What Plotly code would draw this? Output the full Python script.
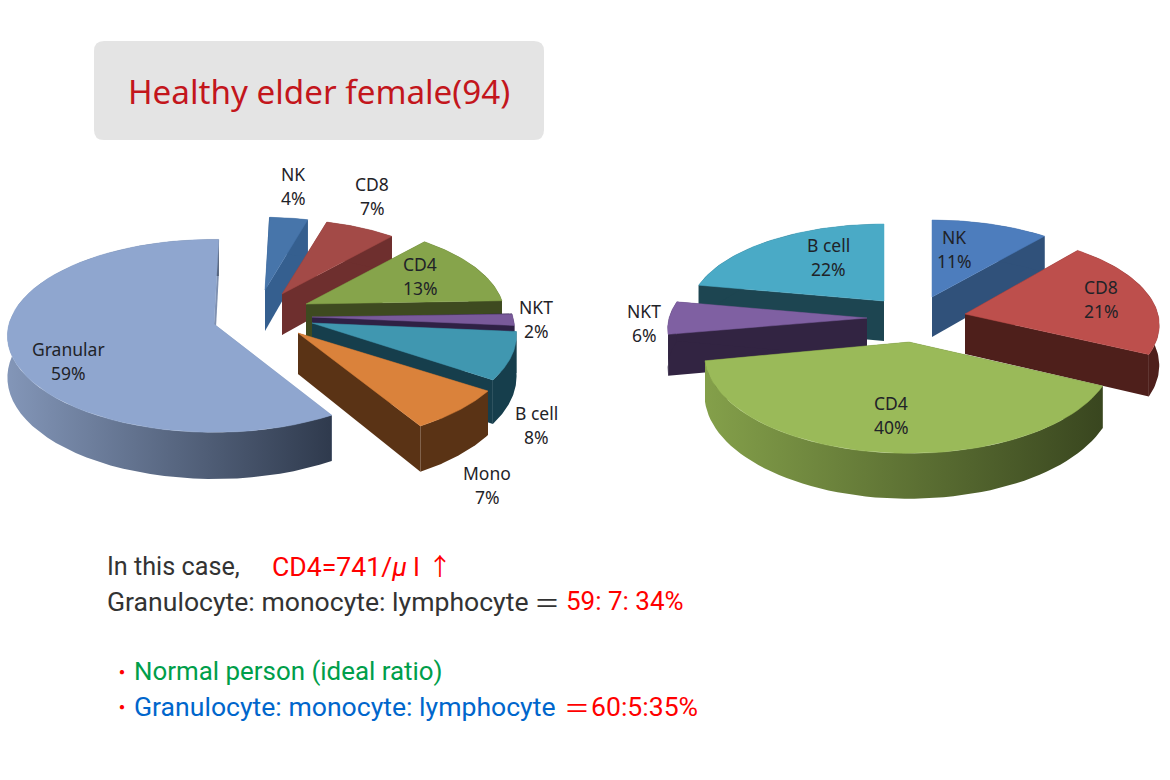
import numpy as np
import plotly.graph_objects as go

# ---- data ----
left_labels = ["NK", "CD8", "CD4", "NKT", "B cell", "Mono", "Granular"]
left_values = [4, 7, 13, 2, 8, 7, 59]
right_labels = ["NK", "CD8", "CD4", "NKT", "B cell"]
right_values = [11, 21, 40, 6, 22]
case_ratio = [59, 7, 34]
ideal_ratio = [60, 5, 35]
cd4_count = 741
title_text = "Healthy elder female(94)"

# ---- style / layout of the two exploded pies ----
left_top = ["#4775aa", "#a34a47", "#86a44b", "#795a9a", "#4097b0", "#da823b", "#8fa6cf"]
left_side = ["#355f8f", "#6e2f2e", "#3e4a20", "#2f2145", "#163e4c", "#5a3315", "#7f90b0"]
right_top = ["#4d7dbd", "#bd4f4c", "#9aba59", "#7f60a2", "#4aaac6"]
right_side = ["#30517a", "#4e1f1b", "#3d4a20", "#322442", "#1d4551"]
left_wall_grad = {"Granular": ["#8396b8", "#2f3a4d"]}
right_wall_grad = {"CD4": ["#84a04a", "#39461f"]}

# slice apex (x, y) and per-slice size factors
left_apex = [(265, 290), (282, 294), (306, 304), (312, 317), (312, 323), (298, 333), (214, 324)]
left_sx = [.86, .90, .97, .99, 1.0, 1.05, 1.01]
left_sy = [.86, .88, .95, .99, 1.0, 1.02, 1.0]
left_order = [0, 1, 2, 3, 6, 4, 5]
right_apex = [(932, 297), (965, 314), (909, 342), (867, 318), (884, 301)]
right_sx = [.95, .95, 1.0, .975, .95]
right_sy = [.88, .92, 1.0, .90, .88]
right_order = [4, 0, 3, 1, 2]

fig = go.Figure()


def add_pie(labels, values, apex, sx, sy, order, top, side, grad, rx, ry, k, depth, rot):
    total = sum(values)
    edges = rot + 360.0 * np.cumsum([0] + list(values)) / total
    for i in order:
        th = np.radians(np.linspace(edges[i], edges[i + 1], 60))
        u, v = np.sin(th), -np.cos(th)
        s = 1 / (1 - k * v)
        ax, ay = apex[i]
        x = ax + sx[i] * rx * u * s
        y = ay + sy[i] * ry * v * s
        d = depth * s
        # radial faces
        for j in (0, -1):
            fig.add_trace(go.Scatter(
                x=[ax, x[j], x[j], ax, ax],
                y=[ay, y[j], y[j] + d[j], ay + depth, ay],
                mode="lines", line=dict(width=0), fill="toself",
                fillcolor=side[i], hoverinfo="skip", showlegend=False))
        # outer wall
        wall = dict(x=np.r_[x, x[::-1]], y=np.r_[y, (y + d)[::-1]],
                    mode="lines", line=dict(width=0), fill="toself",
                    hoverinfo="skip", showlegend=False)
        if labels[i] in grad:
            c0, c1 = grad[labels[i]]
            wall["fillgradient"] = dict(type="horizontal", colorscale=[[0, c0], [1, c1]])
        else:
            wall["fillcolor"] = side[i]
        fig.add_trace(go.Scatter(**wall))
        # top face
        fig.add_trace(go.Scatter(
            x=np.r_[ax, x, ax], y=np.r_[ay, y, ay],
            mode="lines", line=dict(width=0.5, color=top[i]), fill="toself",
            fillcolor=top[i], name=labels[i], showlegend=False,
            text=f"{labels[i]} {values[i]}%", hoverinfo="text"))


add_pie(left_labels, left_values, left_apex, left_sx, left_sy, left_order,
        left_top, left_side, left_wall_grad, 203, 95, .123, 41, 1.5)
add_pie(right_labels, right_values, right_apex, right_sx, right_sy, right_order,
        right_top, right_side, right_wall_grad, 203, 98, .12, 40, 0.0)

# ---- pie labels ----
LABEL_FONT = dict(family="Noto Sans", size=17.5, color="#1f2328")
left_label_pos = [(293, 174), (372, 184), (420, 264), (536, 307), (536, 413), (487, 473), (68, 349)]
right_label_pos = [(954, 237), (1101, 287), (891, 403), (644, 311), (828, 245)]
ann = []


def txt(x, y, text, font, anchor="center"):
    ann.append(dict(x=x, y=y, text=text, showarrow=False, xref="x", yref="y",
                    xanchor=anchor, yanchor="middle", font=font, borderpad=0, borderwidth=0))


for names, vals, pos in ((left_labels, left_values, left_label_pos),
                         (right_labels, right_values, right_label_pos)):
    for n, val, (lx, ly) in zip(names, vals, pos):
        txt(lx, ly, n, LABEL_FONT)
        txt(lx, ly + 24, f"{val}%", LABEL_FONT)

# ---- title box ----
shapes = [dict(type="path", xref="x", yref="y", line=dict(width=0), fillcolor="#e4e4e4", layer="below",
               path="M104,41 L534,41 Q544,41 544,51 L544,130 Q544,140 534,140 "
                    "L104,140 Q94,140 94,130 L94,51 Q94,41 104,41 Z")]
txt(319, 91, title_text, dict(family="Noto Sans", size=33.2, color="#c3161c"))

# ---- notes ----
DARK, RED, GREEN, BLUE = "#333333", "#ff0000", "#009e4a", "#0066cc"
NOTE = "Roboto"
CJK = "Noto Sans CJK JP"
SZ = 26.6


def f(c, size=SZ, family=NOTE):
    return dict(family=family, size=size, color=c)


txt(107, 566, "In this case,", f(DARK, 25.2), "left")
txt(272, 566, f"CD4={cd4_count}/<i>μ</i> l", f(RED), "left")
txt(428, 564, "↑", f(RED, 24, CJK), "left")
txt(107, 601, "Granulocyte: monocyte: lymphocyte", f(DARK), "left")
txt(534, 601, "＝", f(DARK, 26, CJK), "left")
txt(566, 601, f"{case_ratio[0]}: {case_ratio[1]}: {case_ratio[2]}%", f(RED, 26), "left")
txt(112, 671, "・", f(RED, 20, CJK), "left")
txt(134, 671, "Normal person (ideal ratio)", f(GREEN, 25.9), "left")
txt(112, 706, "・", f(RED, 20, CJK), "left")
txt(134, 706, "Granulocyte: monocyte: lymphocyte", f(BLUE), "left")
txt(564, 706, "＝", f(RED, 26, CJK), "left")
txt(591, 706, f"{ideal_ratio[0]}:{ideal_ratio[1]}:{ideal_ratio[2]}%", f(RED), "left")

fig.update_layout(
    width=1170, height=780, margin=dict(l=0, r=0, t=0, b=0),
    paper_bgcolor="white", plot_bgcolor="white", showlegend=False,
    xaxis=dict(range=[0, 1170], visible=False, fixedrange=True),
    yaxis=dict(range=[780, 0], visible=False, fixedrange=True),
    annotations=ann, shapes=shapes,
)
fig.write_html("out.html", post_script="document.body.style.margin='0';",
               config={"displayModeBar": False})
